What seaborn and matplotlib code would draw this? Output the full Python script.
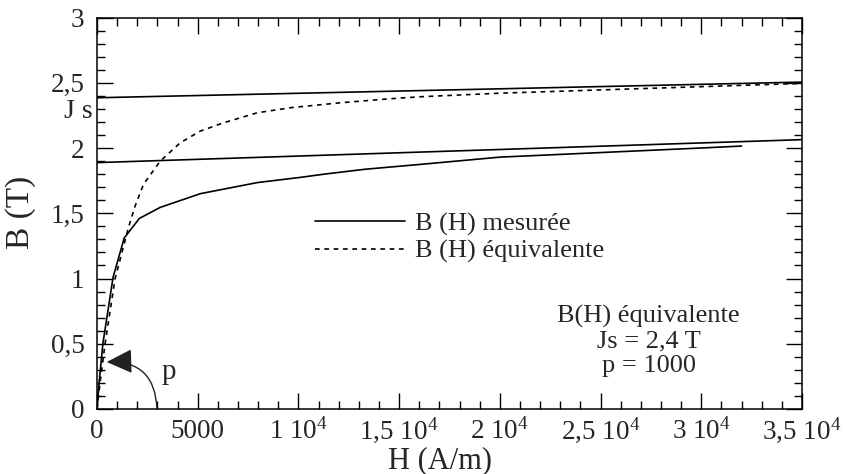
import numpy as np
import pandas as pd
import seaborn as sns
import matplotlib.pyplot as plt
from matplotlib.ticker import MultipleLocator, FixedLocator, FixedFormatter

# measured B(H) curve
H_mes = [0, 120, 300, 800, 1350, 2100, 3140, 5130, 7960, 10100, 11300, 13300,
         16100, 20000, 25000, 30000, 32000]
B_mes = [0, 0.23, 0.51, 1.01, 1.31, 1.46, 1.545, 1.65, 1.735, 1.775, 1.80, 1.837,
         1.875, 1.93, 1.965, 2.0, 2.015]

# equivalent B(H) curve
H_eq = [0, 150, 400, 900, 1560, 1895, 2310, 2725, 3140, 4140, 5135, 6300, 7960,
        9620, 12110, 14600, 16100, 20000, 25000, 30000, 35000]
B_eq = [0, 0.20, 0.50, 1.00, 1.39, 1.556, 1.722, 1.811, 1.90, 2.041, 2.13, 2.194,
        2.27, 2.309, 2.347, 2.378, 2.393, 2.42, 2.445, 2.47, 2.495]

# the two straight asymptotes
H_line = [0, 35000]
B_top = [2.385, 2.505]
B_low = [1.888, 2.064]

xticks = [0, 5000, 10000, 15000, 20000, 25000, 30000, 35000]
xlabels = ['0', '5000', '1 10$^4$', '1,5 10$^4$', '2 10$^4$', '2,5 10$^4$',
           '3 10$^4$', '3,5 10$^4$']
yticks = [0, 0.5, 1, 1.5, 2, 2.5, 3]
ylabels = ['0', '0,5', '1', '1,5', '2', '2,5', '3']

sns.set_style("ticks")
plt.rcParams['font.family'] = ['Liberation Serif', 'DejaVu Serif']
plt.rcParams['mathtext.default'] = 'regular'

fig, ax = plt.subplots(figsize=(8.43, 4.74), dpi=100)
plt.subplots_adjust(left=97/843, right=802/843, top=1-17.5/474, bottom=1-409/474)

mes = pd.DataFrame({'H': H_mes, 'B': B_mes})
eq = pd.DataFrame({'H': H_eq, 'B': B_eq})
lines = pd.DataFrame({'H': H_line * 2, 'B': B_top + B_low,
                      'k': ['top', 'top', 'low', 'low']})

sns.lineplot(data=lines, x='H', y='B', units='k', estimator=None, color='black',
             lw=1.2, ax=ax, legend=False)
sns.lineplot(data=mes, x='H', y='B', color='black', lw=1.2, ax=ax,
             label='B (H) mesurée', sort=False)
sns.lineplot(data=eq, x='H', y='B', color='black', lw=1.2, ls=(0, (2.8, 2.8)), ax=ax,
             label='B (H) équivalente', sort=False)

ax.set_xlim(0, 35000)
ax.set_ylim(0, 3)
ax.xaxis.set_major_locator(FixedLocator(xticks))
ax.xaxis.set_major_formatter(FixedFormatter(xlabels))
ax.xaxis.set_minor_locator(MultipleLocator(1000))
ax.yaxis.set_major_locator(FixedLocator(yticks))
ax.yaxis.set_major_formatter(FixedFormatter(ylabels))
ax.yaxis.set_minor_locator(MultipleLocator(0.1))
ax.tick_params(which='both', direction='in', top=True, right=True, width=1,
               color='black', labelsize=19.5)
ax.tick_params(axis='x', which='major', length=11.5, pad=21)
ax.tick_params(axis='y', which='major', length=11.5, pad=9)
ax.tick_params(which='minor', length=6)
for t in ax.xaxis.get_major_ticks():
    t.label1.set_verticalalignment('baseline')
for s in ax.spines.values():
    s.set_linewidth(1.1)
    s.set_color('black')

ax.set_xlabel('H (A/m)', fontsize=22)
ax.set_ylabel('B (T)', fontsize=24)
ax.xaxis.set_label_coords(0.486, -0.095)
ax.yaxis.set_label_coords(-0.086, 0.503)

ax.text(-0.006, 2.283, 'J s', transform=ax.get_yaxis_transform(), ha='right',
        va='center', fontsize=20)

ax.legend(loc='center left', bbox_to_anchor=(0.309, 0.438), frameon=False,
          fontsize=19, handlelength=3.4, handletextpad=0.38, labelspacing=0.15,
          borderpad=0, borderaxespad=0)

ax.text(27380, 0.52, 'B(H) équivalente\nJs = 2,4 T\np = 1000', ha='center',
        va='center', multialignment='center', fontsize=19, linespacing=1.15)

ax.annotate('', xy=(480, 0.36), xytext=(2975, 0),
            arrowprops=dict(arrowstyle='-|>,head_length=0.8,head_width=0.38',
                            connectionstyle='arc3,rad=0.5', color='#222222',
                            lw=1, shrinkA=0, shrinkB=0, mutation_scale=20))
ax.text(3570, 0.28, 'p', ha='center', va='center', fontsize=21)

fig.savefig('out.png', dpi=100)
